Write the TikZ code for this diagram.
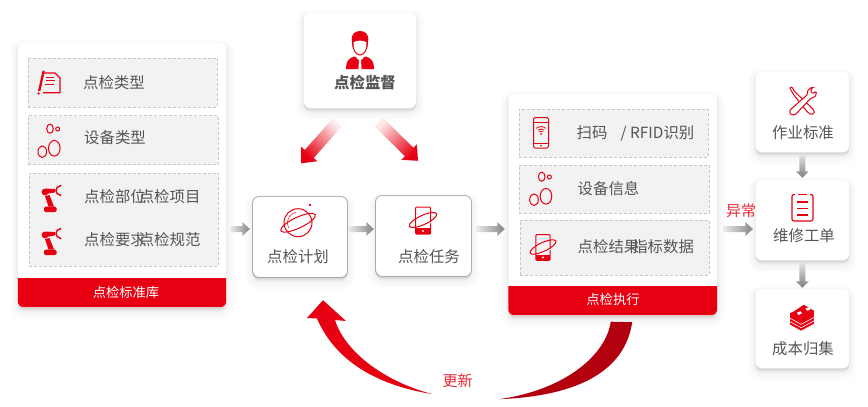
\documentclass[tikz,border=0pt]{standalone}
\usepackage{fontspec}
\setmainfont{Noto Sans CJK SC}
\usetikzlibrary{calc,shadows}
\definecolor{hotred}{HTML}{E60012}
\definecolor{deepred}{HTML}{B3000E}
\definecolor{txtgray}{HTML}{555555}
\tikzset{softshadow/.style={
    general shadow={draw=black,fill=black,line width=16pt,opacity=.012,shadow yshift=-5pt},
    general shadow={draw=black,fill=black,line width=11pt,opacity=.016,shadow yshift=-4pt},
    general shadow={draw=black,fill=black,line width=6pt,opacity=.02,shadow yshift=-3pt},
    general shadow={draw=black,fill=black,line width=2pt,opacity=.03,shadow yshift=-2pt}}}
\tikzstyle{card}=[rectangle,rounded corners=6pt,fill=white,softshadow,inner sep=0pt]
\tikzstyle{cardtight}=[card,general shadow={draw=black,fill=black,line width=1.8pt,opacity=.28,shadow yshift=0pt}]
\tikzstyle{slot}=[rectangle,draw=black!22,densely dashed,line width=.5pt,fill=black!5,inner sep=0pt]
\tikzstyle{txtlabel}=[anchor=west,inner sep=0pt,text=txtgray,font=\fontsize{15.4}{16}\selectfont]
\tikzstyle{mid}=[txtlabel,anchor=center]
\tikzstyle{foot}=[inner sep=0pt,text=white,font=\fontsize{13.3}{14}\selectfont]
\tikzstyle{redtxt}=[inner sep=0pt,text=hotred!85!white,font=\fontsize{15}{16}\selectfont]
\tikzstyle{stroke}=[draw=hotred,line width=1pt]
\newcommand{\flowarrow}[6]{% start, tip, half shaft, head length, half head, look
  \coordinate (fb) at ($(#2)!#4!(#1)$);
  \shade[#6] ($(#1)!#3!90:(#2)$) -- ($(fb)!#3!-90:(#1)$) -- ($(fb)!#5!-90:(#1)$) -- (#2)
    -- ($(fb)!#5!90:(#1)$) -- ($(fb)!#3!90:(#1)$) -- ($(#1)!#3!-90:(#2)$) -- cycle;}
\newcommand{\grayright}[2]{\flowarrow{#1}{#2}{3pt}{7.5pt}{7pt}{left color=black!8,right color=black!48}}
\newcommand{\graydown}[2]{\flowarrow{#1}{#2}{3pt}{6.5pt}{6.5pt}{top color=black!12,bottom color=black!50}}
\newcommand{\footband}[1]{\begin{scope}
    \clip ($(#1.south west)+(0,-29)$) rectangle (#1.south east);
    \fill[hotred,rounded corners=6pt] (#1.north west) rectangle (#1.south east);
  \end{scope}}
\newcommand{\bubbles}[2]{\begin{scope}[shift={(#1,#2)}]
    \draw[stroke] (0,0) ellipse (3.3 and 4.6); \draw[stroke] (7.7,.3) circle (2);
    \draw[stroke] (-7.7,23) ellipse (4.3 and 5.8); \draw[stroke] (4.3,19.6) ellipse (5.8 and 7.8);
  \end{scope}}
\newcommand{\robot}[2]{\begin{scope}[shift={(#1,#2)}]
    \fill[hotred,rounded corners=1.5pt] (-7,21.5) rectangle (5.5,27);
    \fill[hotred] (-6,11) -- (-1.5,10) -- (3,21.5) -- (-2.5,21.5) -- cycle;
    \fill[hotred] (-6,7) circle (3.4);
    \fill[hotred] (-5,3.6) -- (4,4) -- (4,7.4) -- (-5,9) -- cycle;
    \draw[hotred,line width=1.4pt] (9.5,.9) -- (6.3,2.2) -- (5,5.5) -- (6.3,8.8) -- (9.5,10.1);
    \fill[hotred] (9.5,.7) circle (1) (9.5,10.3) circle (1);
  \end{scope}}
\newcommand{\orbitphone}[2]{\begin{scope}[shift={(#1,#2)}]
    \draw[stroke,rounded corners=1pt] (-7.5,-13) rectangle (7.5,14);
    \fill[hotred] (-7.5,8) rectangle (7.5,14);
    \fill[white] (0,11) circle (1.2);
    \draw[white,line width=2.4pt,rotate=25] (112:16 and 5.2) arc (112:68:16 and 5.2);
    \draw[stroke,rotate=25] (0,0) ellipse (15 and 4.6);
  \end{scope}}
\begin{document}
\begin{tikzpicture}[x=1pt,y=-1pt]
\useasboundingbox (0,0) rectangle (868,407);
% left card
\node[card,minimum width=208pt,minimum height=264pt] (lib) at (122,175) {};
\footband{lib}
\node[foot] (libfoot) at (126,292) {点检标准库};
\node[slot,minimum width=189pt,minimum height=49.5pt] (s1) at (122.5,82.7) {};
\node[slot,minimum width=190pt,minimum height=49pt] (s2) at (123,140) {};
\node[slot,minimum width=189pt,minimum height=93.5pt] (s3) at (123.5,219.7) {};
\node[txtlabel] (t1) at (83,82.5) {点检类型};
\node[txtlabel] (t2) at (84,138) {设备类型};
\node[txtlabel] (t3) at (84,197) {点检部位\kern-7pt 点检项目};
\node[txtlabel] (t4) at (84,240) {点检要求\kern-7pt 点检规范};
% note icon
\fill[hotred] (42.6,70.5) -- (44.8,71) -- (40.4,91) -- (38,91) -- cycle;
\fill[hotred] (38.6,93.4) circle (1.3);
\draw[stroke,line width=1.1pt,line join=round] (44,73) -- (55,73) -- (60,78) -- (60,92.7) -- (43,92.7);
\draw[hotred,line width=.7pt] (46,77) -- (54,77) (45.5,80.5) -- (55,80.5) (45,84) -- (54,84);
\bubbles{50}{128.7}
\robot{51}{185}
\robot{51}{228}
% supervise
\node[card,minimum width=112pt,minimum height=95pt] (boss) at (360,60.5) {};
\node[txtlabel,anchor=center,font=\fontsize{15.4}{16}\selectfont\bfseries] (bosstxt) at (365,83) {点检监督};
\fill[hotred] (346,69) .. controls (346,62) and (348,58.5) .. (354,56.5) -- (366,56.5) .. controls (372,58.5) and (374,62) .. (374,69) -- cycle;
\fill[white] (354.5,55.5) -- (360,61.5) -- (365.5,55.5) -- cycle;
\fill[white] (359,61) -- (361,61) -- (361.6,69) -- (358.4,69) -- cycle;
\fill[hotred] (352,42) .. controls (350.5,34) and (355,31) .. (360,31) .. controls (365,31) and (369.5,34) .. (368,42)
  .. controls (368,50) and (364.5,55.5) .. (360,55.5) .. controls (355.5,55.5) and (352,50) .. (352,42) -- cycle;
\fill[white] (353.5,42.5) .. controls (356,40) and (364,40) .. (366.5,42.5) .. controls (366.8,49) and (364,54.3) .. (360,54.3) .. controls (356,54.3) and (353.2,49) .. (353.5,42.5) -- cycle;
% plan task
\node[cardtight,minimum width=94pt,minimum height=80pt] (plan) at (300,237) {};
\node[cardtight,minimum width=95pt,minimum height=80pt] (task) at (423.5,236) {};
\node[mid] (plantxt) at (298,257) {点检计划};
\node[mid] (tasktxt) at (429,257) {点检任务};
\begin{scope}[shift={(298,222.7)}]
  \draw[stroke] (0,0) circle (14);
  \draw[hotred,line width=.5pt] (150:10.5) arc (150:260:10.5);
  \draw[white,line width=2.4pt,rotate=25] (120:16 and 5.6) arc (120:60:16 and 5.6);
  \draw[stroke,rotate=25] (0,0) ellipse (19 and 5.4);
  \fill[hotred] (12,-17.7) circle (1.3);
\end{scope}
\orbitphone{423}{220}
% exec card
\node[card,minimum width=208.5pt,minimum height=221pt] (exec) at (612.7,204.5) {};
\footband{exec}
\node[foot] (execfoot) at (613,299) {点检执行};
\node[slot,minimum width=189pt,minimum height=48pt] (e1) at (613.5,133) {};
\node[slot,minimum width=190pt,minimum height=48pt] (e2) at (614,189) {};
\node[slot,minimum width=189pt,minimum height=55pt] (e3) at (614.5,247.5) {};
\node[txtlabel] (x1) at (576.5,133) {扫码\kern13.2pt / RFID识别};
\node[txtlabel] (x2) at (577.5,189) {设备信息};
\node[txtlabel] (x3) at (577.5,247) {点检结果\kern-7pt 指标数据};
% wifi phone
\draw[stroke,rounded corners=1.5pt] (533.5,117.5) rectangle (548.5,148);
\draw[hotred,line width=.7pt] (533.5,122) -- (548.5,122) (533.5,143) -- (548.5,143);
\fill[hotred] (541,145.6) circle (.9);
\begin{scope}[shift={(541,134)}]
  \draw[hotred,line width=.8pt] (-130:7.4) arc (-130:-50:7.4) (-130:5) arc (-130:-50:5) (-130:2.8) arc (-130:-50:2.8);
  \fill[hotred] (0,0) circle (1);
\end{scope}
\bubbles{541.7}{176.7}
\begin{scope}[scale=.95,shift={(28.6,13)}]\orbitphone{543}{247}\end{scope}
% right column
\node[card,minimum width=93.5pt,minimum height=80pt] (std) at (802.3,112) {};
\node[card,minimum width=93.5pt,minimum height=80pt] (repair) at (802.3,220) {};
\node[card,minimum width=93.5pt,minimum height=79pt] (cost) at (802.3,328.5) {};
\node[mid] (stdtxt) at (803,133) {作业标准};
\node[mid] (repairtxt) at (804,236) {维修工单};
\node[mid] (costtxt) at (803,349) {成本归集};
% tools
\begin{scope}[shift={(802.5,101.5)}]
  \draw[hotred,line width=1pt,fill=white,rounded corners=1pt] (-13,-14) -- (-10.5,-14.5) -- (-8,-10) -- (11,8) -- (12,12) -- (8,13) -- (4.5,10) -- (-9,-7) -- cycle;
  \draw[hotred,line width=1pt,fill=white,rounded corners=1pt] (-12,8) -- (5,-7) -- (5,-11) -- (9,-14) -- (10,-14) -- (8,-10) -- (10,-8) -- (14,-10) -- (13,-5) -- (8,-3) -- (-7,13) -- (-11,13.5) -- (-13,11) -- cycle;
\end{scope}
% clipboard
\draw[stroke,line width=1.2pt,rounded corners=2pt] (795,194.5) -- (792,194.5) -- (792,221) -- (813,221) -- (813,194.5) -- (810,194.5);
\draw[stroke,line width=1.2pt] (798,194.5) -- (807,194.5);
\draw[hotred,line width=1.2pt] (797,202) -- (808,202) (797,208.5) -- (808,208.5) (797,215) -- (808,215);
% cash
\begin{scope}[shift={(802,317.5)},scale=.85]
  \foreach \ty in {8,4,0}{
    \fill[hotred] (-14,\ty-5) -- (1,\ty-12) -- (14,\ty-5) -- (14,\ty) -- (-1,\ty+8) -- (-14,\ty+1) -- cycle;
    \draw[white,line width=.6pt] (-14,\ty+1) -- (-1,\ty+8) -- (14,\ty);}
  \fill[hotred] (-14,-4) -- (2,-15) -- (14,-8) -- (14,-3) -- (-1,6) -- (-14,-1) -- cycle;
  \fill[white] (-6,-5.5) -- (-2,-7.5) -- (0,-5) -- (-4,-3) -- cycle (4,-10.5) -- (8,-12) -- (10,-9.5) -- (6,-8) -- cycle;
\end{scope}
% flows
\coordinate (a1) at ($(lib.east)+(4,54)$);
\coordinate (a2) at ($(plan.west)+(-3,-8)$);
\grayright{a1}{a2}
\coordinate (b1) at ($(plan.east)+(1.5,-8)$);
\coordinate (b2) at ($(task.west)+(-2,-7)$);
\grayright{b1}{b2}
\coordinate (c1) at ($(task.east)+(5,-7)$);
\coordinate (c2) at ($(exec.west)+(-3.5,24.5)$);
\grayright{c1}{c2}
\coordinate (d1) at ($(exec.east)+(6,24.5)$);
\coordinate (d2) at ($(repair.west)+(-2.5,9)$);
\grayright{d1}{d2}
\node[redtxt] (abn) at (741,211) {异常};
\coordinate (e3a) at ($(std.south)+(0,3)$);
\coordinate (e3b) at ($(repair.north)+(0,-2)$);
\graydown{e3a}{e3b}
\coordinate (f1) at ($(repair.south)+(0,3)$);
\coordinate (f2) at ($(cost.north)+(0,-1)$);
\graydown{f1}{f2}
% supervise arrows
\coordinate (g1) at ($(boss.south)+(-23,14.5)$);
\coordinate (g2) at ($(plan.north)+(1,-33.5)$);
\flowarrow{g1}{g2}{6pt}{12.5pt}{11pt}{top color=hotred!8,bottom color=hotred,shading angle=-45}
\coordinate (h1) at ($(boss.south)+(19,14)$);
\coordinate (h2) at ($(task.north)+(-5.5,-35)$);
\flowarrow{h1}{h2}{6pt}{12.5pt}{11pt}{top color=hotred!8,bottom color=hotred,shading angle=45}
% update curve
\coordinate (u0) at ($(exec.south)+(-2,6.5)$);
\coordinate (u1) at ($(exec.south)+(19.5,7)$);
\coordinate (u2) at ($(plan.south)+(199,122)$);
\fill[deepred] (u0) .. controls (606,355) and (565,390) .. (u2) .. controls (580,396) and (625,370) .. (u1) -- cycle;
\coordinate (v0) at ($(plan.south)+(23,23)$);
\coordinate (v1) at ($(plan.south)+(133,117)$);
\fill[hotred] (v0) -- (346,321) -- (335,320) .. controls (345,352) and (385,382) .. (v1)
  .. controls (375,385) and (335,360) .. (317,318.5) -- (307,318) -- cycle;
\node[redtxt] (upd) at (457.5,381) {更新};
\end{tikzpicture}
\end{document}
